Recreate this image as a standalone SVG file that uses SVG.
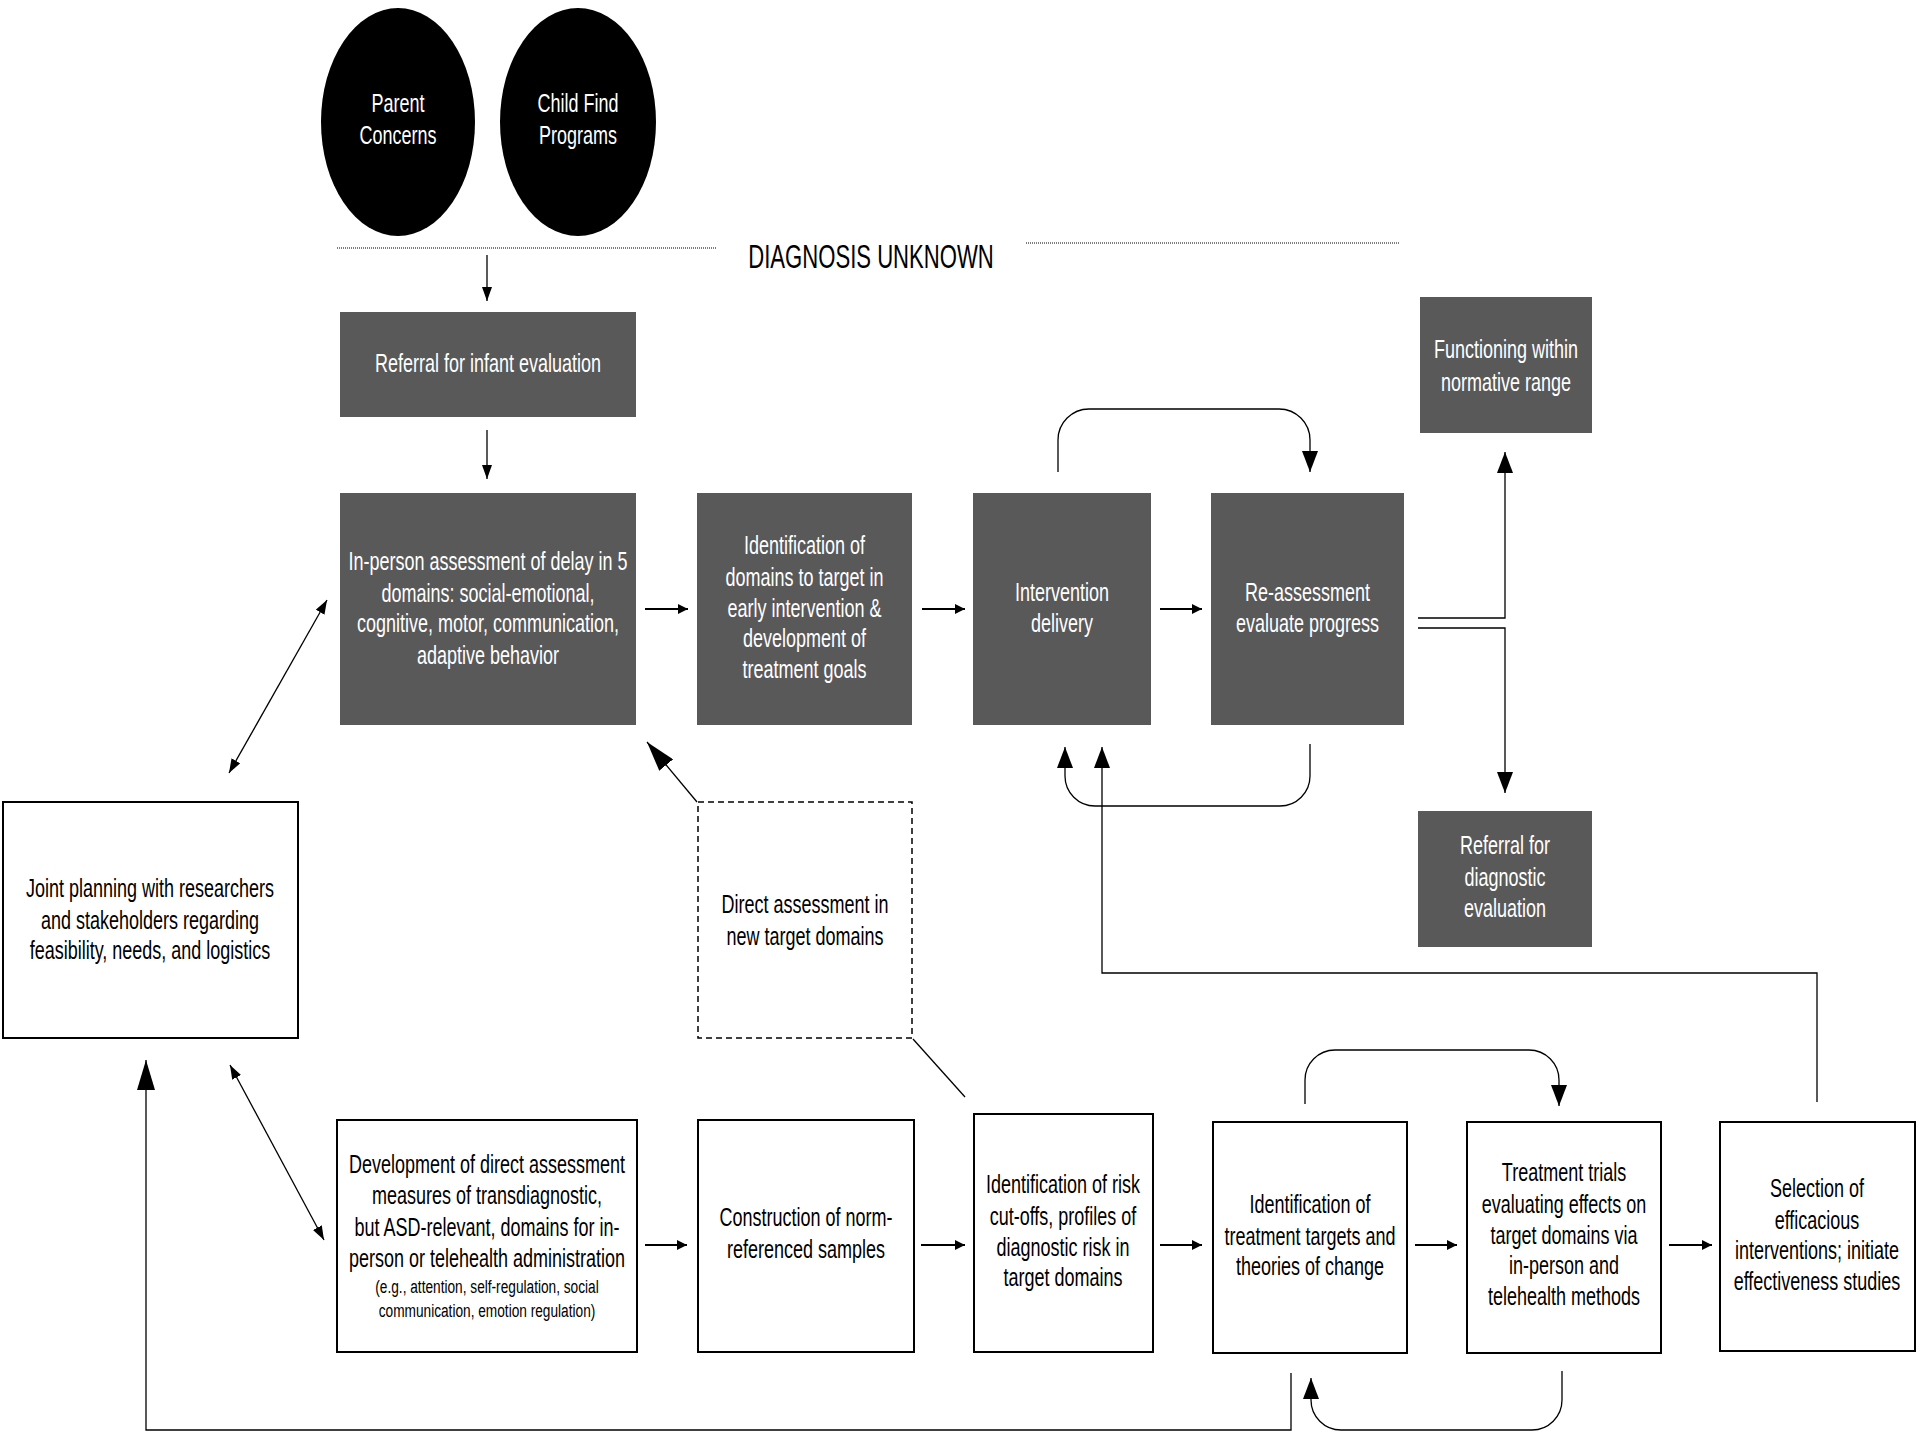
<svg xmlns="http://www.w3.org/2000/svg" width="1920" height="1440" viewBox="0 0 1920 1440">
<style>
.t{font-family:"Liberation Sans",Arial,sans-serif;font-size:25px;text-anchor:middle}
.w{fill:#fff}
.k{fill:#000}
.sm{font-size:19px}
.dk{fill:#595959}
.wb{fill:#fff;stroke:#000;stroke-width:2}
.ln{fill:none;stroke:#000;stroke-width:1.3}
.th{fill:none;stroke:#000;stroke-width:2}
.dot{fill:none;stroke:#555;stroke-width:1.5;stroke-dasharray:1 1}
</style>
<defs>
<marker id="as" markerUnits="userSpaceOnUse" markerWidth="10" markerHeight="10" refX="10" refY="5" orient="auto"><path d="M0,0 L10,5 L0,10 z" fill="#000"/></marker>
<marker id="am" markerUnits="userSpaceOnUse" markerWidth="14" markerHeight="10" refX="14" refY="5" orient="auto-start-reverse"><path d="M0,0 L14,5 L0,10 z" fill="#000"/></marker>
<marker id="al" markerUnits="userSpaceOnUse" markerWidth="21" markerHeight="16" refX="21" refY="8" orient="auto"><path d="M0,0 L21,8 L0,16 z" fill="#000"/></marker>
<marker id="ax" markerUnits="userSpaceOnUse" markerWidth="30" markerHeight="18" refX="30" refY="9" orient="auto"><path d="M0,0 L30,9 L0,18 z" fill="#000"/></marker>
</defs>
<rect width="1920" height="1440" fill="#fff"/>

<g id="parent-concerns">
<ellipse cx="398" cy="122" rx="77" ry="114" fill="#000"/>
<text class="t w" transform="matrix(0.72,0,0,1,398,0)"><tspan x="0" y="112">Parent</tspan><tspan x="0" y="144">Concerns</tspan></text>
</g>
<g id="child-find">
<ellipse cx="578" cy="122" rx="78" ry="114" fill="#000"/>
<text class="t w" transform="matrix(0.72,0,0,1,578,0)"><tspan x="0" y="112">Child Find</tspan><tspan x="0" y="144">Programs</tspan></text>
</g>
<g id="diagnosis-unknown">
<line class="dot" x1="337" y1="248" x2="717" y2="248"/>
<line class="dot" x1="1026" y1="243" x2="1400" y2="243"/>
<text class="t k" style="font-size:33px" transform="matrix(0.67,0,0,1,871,0)"><tspan x="0" y="268">DIAGNOSIS UNKNOWN</tspan></text>
</g>

<g id="referral-infant">
<rect class="dk" x="340" y="312" width="296" height="105"/>
<text class="t w" transform="matrix(0.72,0,0,1,488,0)"><tspan x="0" y="372">Referral for infant evaluation</tspan></text>
</g>
<g id="in-person-assessment">
<rect class="dk" x="340" y="493" width="296" height="232"/>
<text class="t w" transform="matrix(0.72,0,0,1,488,0)"><tspan x="0" y="570">In-person assessment of delay in 5</tspan><tspan x="0" y="602">domains: social-emotional,</tspan><tspan x="0" y="632">cognitive, motor, communication,</tspan><tspan x="0" y="664">adaptive behavior</tspan></text>
</g>
<g id="identification-domains">
<rect class="dk" x="697" y="493" width="215" height="232"/>
<text class="t w" transform="matrix(0.72,0,0,1,804.5,0)"><tspan x="0" y="554">Identification of</tspan><tspan x="0" y="586">domains to target in</tspan><tspan x="0" y="617">early intervention &amp;</tspan><tspan x="0" y="647">development of</tspan><tspan x="0" y="678">treatment goals</tspan></text>
</g>
<g id="intervention-delivery">
<rect class="dk" x="973" y="493" width="178" height="232"/>
<text class="t w" transform="matrix(0.72,0,0,1,1062,0)"><tspan x="0" y="601">Intervention</tspan><tspan x="0" y="632">delivery</tspan></text>
</g>
<g id="re-assessment">
<rect class="dk" x="1211" y="493" width="193" height="232"/>
<text class="t w" transform="matrix(0.72,0,0,1,1307.5,0)"><tspan x="0" y="601">Re-assessment</tspan><tspan x="0" y="632">evaluate progress</tspan></text>
</g>
<g id="functioning-normative">
<rect class="dk" x="1420" y="297" width="172" height="136"/>
<text class="t w" transform="matrix(0.72,0,0,1,1506,0)"><tspan x="0" y="358">Functioning within</tspan><tspan x="0" y="391">normative range</tspan></text>
</g>
<g id="referral-diagnostic">
<rect class="dk" x="1418" y="811" width="174" height="136"/>
<text class="t w" transform="matrix(0.72,0,0,1,1505,0)"><tspan x="0" y="854">Referral for</tspan><tspan x="0" y="886">diagnostic</tspan><tspan x="0" y="917">evaluation</tspan></text>
</g>

<g id="joint-planning">
<rect class="wb" x="3" y="802" width="295" height="236"/>
<text class="t k" transform="matrix(0.72,0,0,1,150,0)"><tspan x="0" y="897">Joint planning with researchers</tspan><tspan x="0" y="929">and stakeholders regarding</tspan><tspan x="0" y="959">feasibility, needs, and logistics</tspan></text>
</g>
<g id="direct-assessment">
<rect x="698" y="802" width="214" height="236" fill="#fff" stroke="#000" stroke-width="1.5" stroke-dasharray="6 4"/>
<text class="t k" transform="matrix(0.72,0,0,1,805,0)"><tspan x="0" y="913">Direct assessment in</tspan><tspan x="0" y="945">new target domains</tspan></text>
</g>

<g id="development-measures">
<rect class="wb" x="337" y="1120" width="300" height="232"/>
<text class="t k" transform="matrix(0.72,0,0,1,487,0)"><tspan x="0" y="1173">Development of direct assessment</tspan><tspan x="0" y="1204">measures of transdiagnostic,</tspan><tspan x="0" y="1236">but ASD-relevant, domains for in-</tspan><tspan x="0" y="1267">person or telehealth administration</tspan><tspan x="0" y="1293" class="sm">(e.g., attention, self-regulation, social</tspan><tspan x="0" y="1317" class="sm">communication, emotion regulation)</tspan></text>
</g>
<g id="construction-samples">
<rect class="wb" x="698" y="1120" width="216" height="232"/>
<text class="t k" transform="matrix(0.72,0,0,1,806,0)"><tspan x="0" y="1226">Construction of norm-</tspan><tspan x="0" y="1258">referenced samples</tspan></text>
</g>
<g id="risk-cutoffs">
<rect class="wb" x="974" y="1114" width="179" height="238"/>
<text class="t k" transform="matrix(0.72,0,0,1,1063,0)"><tspan x="0" y="1193">Identification of risk</tspan><tspan x="0" y="1225">cut-offs, profiles of</tspan><tspan x="0" y="1256">diagnostic risk in</tspan><tspan x="0" y="1286">target domains</tspan></text>
</g>
<g id="treatment-targets">
<rect class="wb" x="1213" y="1122" width="194" height="231"/>
<text class="t k" transform="matrix(0.72,0,0,1,1310,0)"><tspan x="0" y="1213">Identification of</tspan><tspan x="0" y="1245">treatment targets and</tspan><tspan x="0" y="1275">theories of change</tspan></text>
</g>
<g id="treatment-trials">
<rect class="wb" x="1467" y="1122" width="194" height="231"/>
<text class="t k" transform="matrix(0.72,0,0,1,1564,0)"><tspan x="0" y="1181">Treatment trials</tspan><tspan x="0" y="1213">evaluating effects on</tspan><tspan x="0" y="1244">target domains via</tspan><tspan x="0" y="1274">in-person and</tspan><tspan x="0" y="1305">telehealth methods</tspan></text>
</g>
<g id="selection-interventions">
<rect class="wb" x="1720" y="1122" width="195" height="229"/>
<text class="t k" transform="matrix(0.72,0,0,1,1817,0)"><tspan x="0" y="1197">Selection of</tspan><tspan x="0" y="1229">efficacious</tspan><tspan x="0" y="1259">interventions; initiate</tspan><tspan x="0" y="1290">effectiveness studies</tspan></text>
</g>

<g id="connectors">
<path class="ln" d="M487,255 V301" marker-end="url(#am)"/>
<path class="ln" d="M487,430 V479" marker-end="url(#am)"/>
<path class="th" d="M645,609 H688" marker-end="url(#as)"/>
<path class="th" d="M922,609 H965" marker-end="url(#as)"/>
<path class="th" d="M1160,609 H1202" marker-end="url(#as)"/>
<path class="ln" d="M1058,472 V440 A31,31 0 0 1 1089,409 H1279 A31,31 0 0 1 1310,440 V472" marker-end="url(#al)"/>
<path class="ln" d="M1310,744 V776 A30,30 0 0 1 1280,806 H1095 A30,30 0 0 1 1065,776 V747" marker-end="url(#al)"/>
<path class="ln" d="M1817,1102 V973 H1102 V747" marker-end="url(#al)"/>
<path class="ln" d="M1418,618 H1505 V452" marker-end="url(#al)"/>
<path class="ln" d="M1418,628 H1505 V793" marker-end="url(#al)"/>
<path class="ln" d="M229,773 L327,600" marker-start="url(#am)" marker-end="url(#am)"/>
<path class="ln" d="M230,1065 L324,1240" marker-start="url(#am)" marker-end="url(#am)"/>
<path class="ln" d="M697,802 L647,742" marker-end="url(#ax)"/>
<path class="ln" d="M913,1039 L965,1097"/>
<path class="ln" d="M1291,1373 V1430 H146 V1060" marker-end="url(#ax)"/>
<path class="th" d="M645,1245 H687" marker-end="url(#as)"/>
<path class="th" d="M921,1245 H965" marker-end="url(#as)"/>
<path class="th" d="M1160,1245 H1202" marker-end="url(#as)"/>
<path class="th" d="M1415,1245 H1457" marker-end="url(#as)"/>
<path class="th" d="M1669,1245 H1712" marker-end="url(#as)"/>
<path class="ln" d="M1305,1104 V1080 A30,30 0 0 1 1335,1050 H1529 A30,30 0 0 1 1559,1080 V1106" marker-end="url(#al)"/>
<path class="ln" d="M1562,1371 V1400 A30,30 0 0 1 1532,1430 H1341 A30,30 0 0 1 1311,1400 V1378" marker-end="url(#al)"/>
</g>
</svg>
